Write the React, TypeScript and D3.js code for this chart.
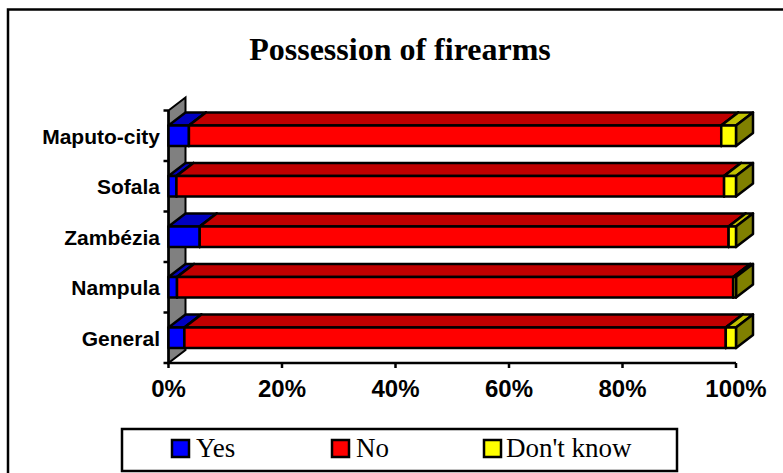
import React from "react";
import * as d3 from "d3";

const categories = ["Maputo-city", "Sofala", "Zambézia", "Nampula", "General"];
const yesValues = [3.6, 1.4, 5.5, 1.5, 2.8];
const noValues = [93.8, 96.5, 93.2, 98.0, 95.4];
const dontKnowValues = [2.6, 2.1, 1.3, 0.5, 1.8];
const seriesNames = ["Yes", "No", "Don't know"];
const frontColors = ["#0000ff", "#ff0000", "#ffff00"];
const topColors = ["#0000c0", "#c00000", "#c0c000"];
const sideColors = ["#000080", "#800000", "#808000"];
const xTicks = [0, 20, 40, 60, 80, 100];
const title = "Possession of firearms";

const W = 783, H = 473;
const left = 168.5, right = 736, top = 110.5, bottom = 363;
const dx = 17, dy = 13;
const sans = "Liberation Sans, Arial, sans-serif";
const serif = "Liberation Serif, Times New Roman, serif";

export default function App() {
  const x = d3.scaleLinear().domain([0, 100]).range([left, right]);
  const y = d3.scaleBand<string>().domain(categories).range([top, bottom]).paddingInner(0.59).paddingOuter(0.295);
  const step = y.step();
  const seriesValues = [yesValues, noValues, dontKnowValues];
  const stack = categories.map((_, i) => {
    let acc = 0;
    return seriesValues.map((vals) => {
      const s = acc;
      acc += vals[i];
      return [s, acc];
    });
  });
  const poly = (pts: number[][]) => pts.map((p) => p.join(",")).join(" ");
  const legendSwatch = [172, 332, 484];
  const legendText = [196, 356, 506];
  return (
    <svg width={W} height={H} style={{ position: "absolute", left: 0, top: 0, background: "#fff" }}>
      <rect x={8} y={9.5} width={800} height={500} fill="#fff" stroke="#000" strokeWidth={2.5} />
      <text x={400} y={59.5} textAnchor="middle" fontFamily={serif} fontWeight="bold" fontSize={32}>{title}</text>
      {/* wall */}
      <polygon points={poly([[left, top], [left + dx, top - dy], [left + dx, bottom - dy], [left, bottom]])} fill="#808080" stroke="#000" strokeWidth={2} />
      {/* axes */}
      <line x1={left} x2={right} y1={bottom} y2={bottom} stroke="#000" strokeWidth={2.5} />
      <line x1={left} x2={left} y1={top} y2={bottom} stroke="#000" strokeWidth={2.5} />
      {d3.range(categories.length + 1).map((i) => (
        <line key={i} x1={left - 5} x2={left} y1={top + i * step} y2={top + i * step} stroke="#000" strokeWidth={2.5} />
      ))}
      {xTicks.map((t) => (
        <g key={t}>
          <line x1={x(t)} x2={x(t)} y1={bottom} y2={bottom + 5} stroke="#000" strokeWidth={2.5} />
          <text x={x(t)} y={bottom + 34} textAnchor="middle" fontFamily={sans} fontWeight="bold" fontSize={24}>{t}%</text>
        </g>
      ))}
      {categories.map((c, i) => {
        const y0 = y(c)!;
        const h = y.bandwidth();
        return (
          <g key={c}>
            <text x={160} y={y0 + h / 2 + 8} textAnchor="end" fontFamily={sans} fontWeight="bold" fontSize={21}>{c}</text>
            {stack[i].map(([a, b], k) => {
              const xa = x(a), xb = x(b);
              return (
                <g key={k} stroke="#000" strokeWidth={2.5} strokeLinejoin="round">
                  <polygon points={poly([[xa, y0], [xa + dx, y0 - dy], [xb + dx, y0 - dy], [xb, y0]])} fill={topColors[k]} />
                  <polygon points={poly([[xb, y0], [xb + dx, y0 - dy], [xb + dx, y0 + h - dy], [xb, y0 + h]])} fill={sideColors[k]} />
                  <rect x={xa} y={y0} width={xb - xa} height={h} fill={frontColors[k]} />
                </g>
              );
            })}
          </g>
        );
      })}
      {/* legend */}
      <rect x={122} y={429} width={555} height={42} fill="#fff" stroke="#000" strokeWidth={2.5} />
      {seriesNames.map((n, i) => (
        <g key={n}>
          <rect x={legendSwatch[i]} y={440} width={17} height={17} fill={frontColors[i]} stroke="#000" strokeWidth={2.5} />
          <text x={legendText[i]} y={456.5} fontFamily={serif} fontSize={27}>{n}</text>
        </g>
      ))}
    </svg>
  );
}
